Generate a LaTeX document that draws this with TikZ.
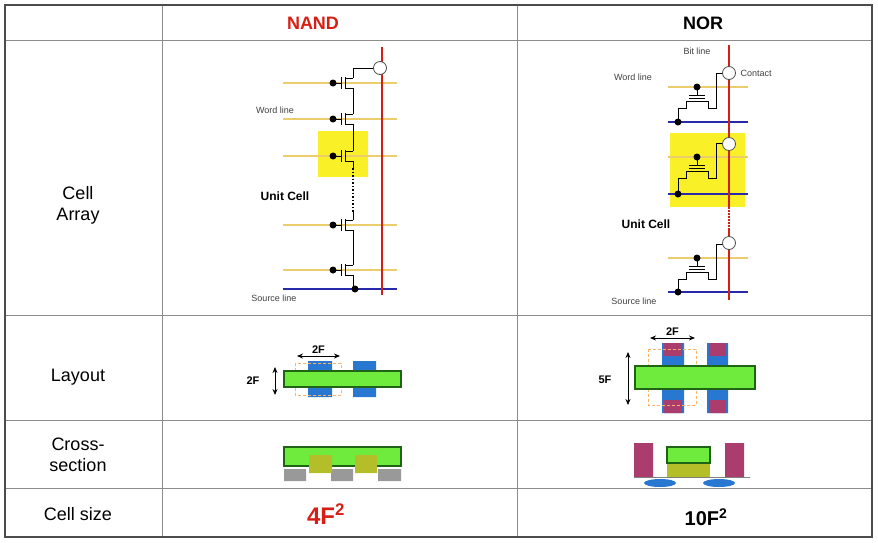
\documentclass[tikz,border=0pt]{standalone}
\usepackage{fontspec}
\setmainfont{Liberation Sans}
\usetikzlibrary{arrows.meta}
\definecolor{wlyel}{RGB}{235,205,110}
\definecolor{slblue}{RGB}{40,40,170}
\definecolor{blred}{RGB}{215,30,20}
\definecolor{cellyel}{RGB}{250,240,40}
\definecolor{lgreen}{RGB}{110,235,60}
\definecolor{dgreen}{RGB}{30,100,20}
\definecolor{lblue}{RGB}{40,120,210}
\definecolor{pink}{RGB}{170,60,110}
\definecolor{olive}{RGB}{180,190,40}
\tikzstyle{grid}=[draw=black!45, line width=1pt]
\tikzstyle{wline}=[wlyel, line width=2pt]
\tikzstyle{sline}=[slblue, line width=2pt]
\tikzstyle{bline}=[blred, line width=2pt]
\tikzstyle{contact}=[draw=black!70, fill=white, circle, inner sep=0pt, minimum size=13pt, line width=0.8pt]
\tikzstyle{small}=[font=\fontsize{9}{10}\selectfont, text=black!75]
\tikzstyle{ucell}=[font=\fontsize{12}{13}\selectfont\bfseries]
\tikzstyle{rowlab}=[font=\fontsize{18}{21}\selectfont, align=center]
\tikzstyle{dim}=[<->, >={Stealth[length=6pt, width=5pt]}, line width=0.8pt]
\tikzstyle{box}=[draw=orange!60, densely dashed, line width=0.5pt]
\newcommand{\nandfet}[1]{%
  \fill (333,#1) circle (3.5pt);
  \draw[line width=0.6pt] (333,#1) -- (341,#1) (341,#1-6) -- (341,#1+6);
  \draw[line width=0.6pt] (345,#1-6) -- (345,#1+6) (345,#1-5) -- (353,#1-5) (345,#1+5) -- (353,#1+5);}
\newcommand{\norfet}[2]{%
  \fill (697,#1) circle (3.5pt);
  \draw[line width=0.6pt] (697,#1) -- (697,#1+8) (689,#1+8) -- (705,#1+8) (689,#1+11) -- (705,#1+11);
  \fill (678,#2) circle (3.5pt);
  \draw[line width=0.6pt] (678,#2) -- (678,#1+21) -- (686,#1+21) -- (686,#1+14) -- (708,#1+14) -- (708,#1+21) -- (716,#1+21) |- (723,#1-14);}
\begin{document}
\begin{tikzpicture}[x=1pt, y=-1pt]
\useasboundingbox (0,0) rectangle (878,542);
% table
\draw[grid] (162,5) -- (162,537) (517,5) -- (517,537);
\draw[grid] (5,40) -- (872,40) (5,315) -- (872,315) (5,420) -- (872,420) (5,488) -- (872,488);
\draw[black!70, line width=1.2pt] (5,5) rectangle (872,537);
\node[font=\fontsize{18}{20}\selectfont\bfseries, text=blred] (nandh) at (313,23) {NAND};
\node[font=\fontsize{18}{20}\selectfont\bfseries] (norh) at (703,23) {NOR};
\node[rowlab] (lcell) at (78,205) {Cell\\Array};
\node[rowlab] (llay) at (78,377) {Layout};
\node[rowlab] (lcross) at (78,455) {Cross-\\section};
\node[rowlab] (lsize) at (78,514) {Cell size};
\node[font=\fontsize{24}{26}\selectfont\bfseries, text=blred] (nandsz) at (326,514) {4F$^{\mathbf 2}$};
\node[font=\fontsize{20}{22}\selectfont\bfseries] (norsz) at (706,517) {10F$^{\mathbf 2}$};
% NAND cell array
\fill[cellyel] (318,131) rectangle (368,177);
\foreach \y in {83,119,156,225,270} \draw[wline] (283,\y) -- (397,\y);
\draw[sline] (283,289) -- (397,289);
\draw[bline] (382,47) -- (382,295);
\foreach \y in {83,119,156,225,270} \nandfet{\y}
\draw[line width=0.6pt] (374,68) -| (353,78) (353,88) -- (353,114) (353,124) -- (353,151) (353,161) -- (353,168);
\draw[line width=1.5pt, dotted] (353,168) -- (353,212);
\draw[line width=0.6pt] (353,212) -- (353,220) (353,230) -- (353,265) (353,275) -- (353,289);
\fill (355,289) circle (3.5pt);
\node[contact] (nc) at (380,68) {};
\node[small] (nwl) at (275,110) {Word line};
\node[ucell] (nuc) at (285,196) {Unit Cell};
\node[small] (nsl) at (274,298) {Source line};
% NOR cell array
\fill[cellyel] (670,133) rectangle (745,207);
\foreach \y in {87,157,258} \draw[wline] (668,\y) -- (748,\y);
\foreach \y in {122,194,292} \draw[sline] (668,\y) -- (748,\y);
\draw[bline] (729,45) -- (729,207) (729,230) -- (729,300);
\draw[bline, densely dotted] (729,207) -- (729,230);
\norfet{87}{122}
\norfet{157}{194}
\norfet{258}{292}
\node[contact] (c1) at (729,73) {};
\node[contact] (c2) at (729,144) {};
\node[contact] (c3) at (729,243) {};
\node[small] (bl) at (697,51) {Bit line};
\node[small, right] (ct) at (737,73) {Contact};
\node[small] (owl) at (633,77) {Word line};
\node[ucell] (ouc) at (646,224) {Unit Cell};
\node[small] (osl) at (634,301) {Source line};
% NAND layout
\fill[lblue] (308,361) rectangle (332,397) (353,361) rectangle (376,397);
\draw[box] (295,363) rectangle (341,395);
\draw[dgreen, fill=lgreen, line width=1.5pt] (284,371) rectangle (401,387);
\coordinate (na1) at (297,356); \coordinate (na2) at (340,356);
\draw[dim] (na1) -- (na2) node[midway, above=-1pt, font=\fontsize{11}{12}\selectfont\bfseries] {2F};
\coordinate (nv1) at (275,367); \coordinate (nv2) at (275,395);
\draw[dim] (nv1) -- (nv2);
\node[font=\fontsize{11}{12}\selectfont\bfseries] (n2f) at (253,381) {2F};
% NOR layout
\fill[lblue] (662,343) rectangle (684,413) (707,343) rectangle (728,413);
\fill[pink] (664,343) rectangle (682,356) (709,343) rectangle (726,356) (664,400) rectangle (682,413) (709,400) rectangle (726,413);
\draw[box] (648,349) rectangle (696,405);
\draw[dgreen, fill=lgreen, line width=1.5pt] (635,366) rectangle (755,389);
\coordinate (oa1) at (650,338); \coordinate (oa2) at (695,338);
\draw[dim] (oa1) -- (oa2) node[midway, above=-1pt, font=\fontsize{11}{12}\selectfont\bfseries] {2F};
\coordinate (ov1) at (628,352); \coordinate (ov2) at (628,405);
\draw[dim] (ov1) -- (ov2);
\node[font=\fontsize{11}{12}\selectfont\bfseries] (o5f) at (605,380) {5F};
% NAND cross-section
\fill[black!40] (284,469) rectangle (306,481) (331,469) rectangle (353,481) (378,469) rectangle (401,481);
\draw[dgreen, fill=lgreen, line width=1.5pt] (284,447) rectangle (401,466);
\fill[olive] (309,455) rectangle (332,473) (355,455) rectangle (377,473);
% NOR cross-section
\fill[lblue] (660,483) ellipse (16pt and 4pt) (719,483) ellipse (16pt and 4pt);
\fill[pink] (634,443) rectangle (653,477) (725,443) rectangle (744,477);
\draw[black!50, line width=1pt] (634,477) -- (750,477);
\fill[olive] (667,463) rectangle (710,477);
\draw[dgreen, fill=lgreen, line width=1.5pt] (667,447) rectangle (710,463);
\end{tikzpicture}
\end{document}
